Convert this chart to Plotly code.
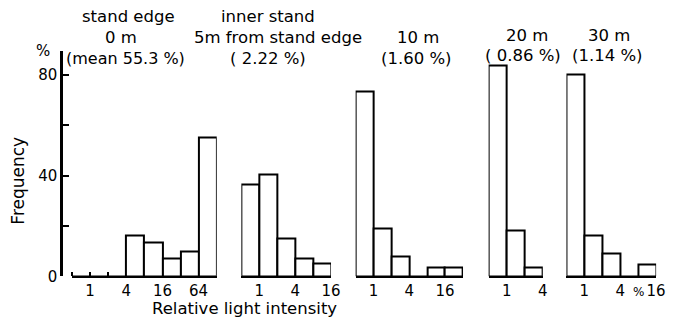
import numpy as np
import plotly.graph_objects as go

# ---- data (relative light intensity bins, lower edge in %, frequency in %) ----
p1_lo = [0.5, 1, 2, 4, 8, 16, 32, 64]
p1_freq = [0, 0, 0, 16.2, 13.6, 7.0, 9.7, 55.3]
p2_lo = [0.5, 1, 2, 4, 8]
p2_freq = [36.5, 40.3, 15.0, 7.0, 5.0]
p3_lo = [0.5, 1, 2, 4, 8, 16]
p3_freq = [73.4, 19.0, 8.0, 0, 3.6, 3.6]
p4_lo = [0.5, 1, 2]
p4_freq = [84.0, 18.0, 3.5]
p5_lo = [0.5, 1, 2, 4, 8]
p5_freq = [80.4, 16.0, 9.0, 0, 4.5]

tick_vals_pct = [1, 4, 16, 64]
tick_text = ["1", "4", "16", "64"]

headers = [
    ["stand edge", "0 m", "(mean 55.3 %)"],
    ["inner stand", "5m from stand edge", "( 2.22 %)"],
    ["10 m", "(1.60 %)"],
    ["20 m", "( 0.86 %)"],
    ["30 m", "(1.14 %)"],
]

W, H = 673, 330
FONT = "DejaVu Sans"


def px(x, y):
    return x / W, 1 - y / H


panels = [(p1_lo, p1_freq), (p2_lo, p2_freq), (p3_lo, p3_freq), (p4_lo, p4_freq), (p5_lo, p5_freq)]
# pixel extents of each panel's baseline and its log2 range
dom_px = [(73, 220), (245, 336), (361, 470), (496, 551), (575, 666)]
ranges = [(-1, 7), (-1, 4), (-1, 5), (-1, 2), (-1, 4)]
max_tick = [64, 16, 16, 4, 16]

fig = go.Figure()
for i, (lo, fr) in enumerate(panels):
    xs = np.log2(np.array(lo, dtype=float)) + 0.5
    axname = "x" if i == 0 else f"x{i+1}"
    fig.add_trace(go.Bar(
        x=xs, y=fr, width=1.0, xaxis=axname, yaxis="y",
        marker=dict(color="white", line=dict(color="black", width=2)),
        showlegend=False,
    ))

layout = dict(
    width=W, height=H, margin=dict(l=0, r=0, t=0, b=0),
    paper_bgcolor="white", plot_bgcolor="white",
    font=dict(family=FONT, color="black", size=15),
    bargap=0,
    yaxis=dict(
        domain=[(H - 284) / H, (H - 52) / H], range=[0, 89.8],
        anchor="free", position=62 / W,
        showline=True, linecolor="black", linewidth=2.5,
        tickvals=[0, 20, 40, 60, 80], ticktext=["0", "", "40", "", "80"],
        ticks="inside", ticklen=6, tickwidth=1.5, tickcolor="black",
        showgrid=False, zeroline=False, tickfont=dict(size=15),
    ),
)
for i in range(5):
    key = "xaxis" if i == 0 else f"xaxis{i+1}"
    tv = [v for v in tick_vals_pct if v <= max_tick[i]]
    tt = [tick_text[tick_vals_pct.index(v)] for v in tv]
    ax = dict(
        domain=[dom_px[i][0] / W, dom_px[i][1] / W], range=list(ranges[i]),
        anchor="y", showline=True, linecolor="black", linewidth=2,
        tickvals=list(np.log2(tv)), ticktext=tt, ticks="",
        showgrid=False, zeroline=False, tickfont=dict(size=15),
    )
    if i == 0:
        ax["minor"] = dict(tickmode="array", tickvals=[-1, 0, 1], ticks="inside",
                           ticklen=4, tickwidth=1.5, tickcolor="black", showgrid=False)
    layout[key] = ax
fig.update_layout(**layout)

ann = []
def add(text, x, y, size=16.5, angle=0, xanchor="center"):
    xx, yy = px(x, y)
    ann.append(dict(text=text, x=xx, y=yy, xref="paper", yref="paper", showarrow=False,
                    xanchor=xanchor, yanchor="middle", textangle=angle,
                    font=dict(family=FONT, size=size, color="black")))

# headers
add(headers[0][0], 130, 17)
add(headers[0][1], 123, 39)
add(headers[0][2], 127, 60, size=16)
add(headers[1][0], 272, 17)
add(headers[1][1], 282, 39)
add(headers[1][2], 272, 60)
add(headers[2][0], 424, 39)
add(headers[2][1], 423, 60)
add(headers[3][0], 535, 36)
add(headers[3][1], 531, 57)
add(headers[4][0], 618, 36)
add(headers[4][1], 617, 57)
add("%", 44, 52, size=15)
add("%", 648, 300, size=12)
add("Relative light intensity", 248, 317, size=16.5)
add("Frequency", 18, 186, size=17, angle=-90)
fig.update_layout(annotations=ann)

fig.write_html("out.html")
